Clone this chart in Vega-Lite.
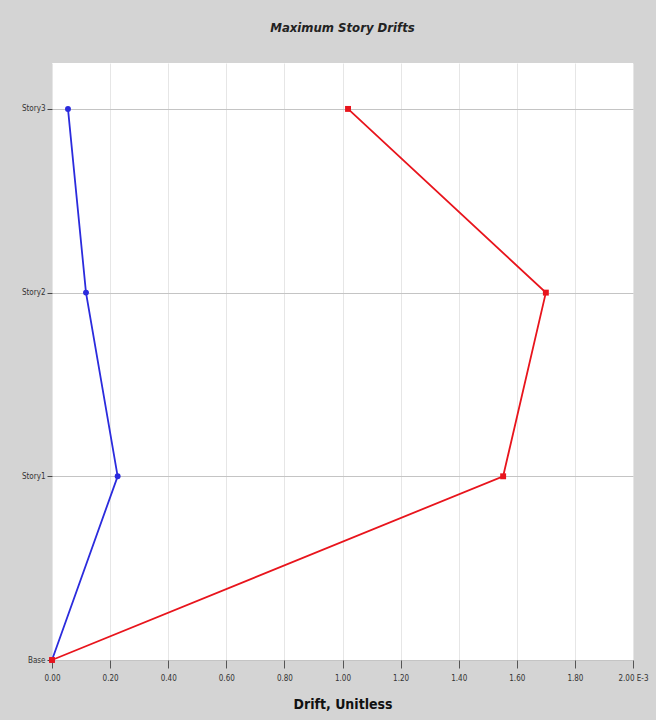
{
  "$schema": "https://vega.github.io/schema/vega-lite/v6.json",
  "width": 581,
  "height": 597,
  "autosize": {"type": "none"},
  "padding": {"left": 52, "top": 63, "right": 23, "bottom": 60},
  "background": "#d4d4d4",
  "view": {"fill": "white", "stroke": null},
  "title": {
    "text": "Maximum Story Drifts",
    "font": "'DejaVu Sans Condensed', 'Liberation Sans', sans-serif",
    "fontStyle": "italic",
    "fontWeight": "bold",
    "fontSize": 13,
    "color": "#222222",
    "offset": 28
  },
  "data": {
    "values": [
      {"series": "X", "level": 0, "drift": 0.0},
      {"series": "X", "level": 1, "drift": 0.226},
      {"series": "X", "level": 2, "drift": 0.117},
      {"series": "X", "level": 3, "drift": 0.055},
      {"series": "Y", "level": 0, "drift": 0.0},
      {"series": "Y", "level": 1, "drift": 1.553},
      {"series": "Y", "level": 2, "drift": 1.70},
      {"series": "Y", "level": 3, "drift": 1.019}
    ]
  },
  "encoding": {
    "x": {
      "field": "drift",
      "type": "quantitative",
      "scale": {"domain": [0, 2], "nice": false, "zero": false},
      "axis": {
        "values": [0, 0.2, 0.4, 0.6, 0.8, 1.0, 1.2, 1.4, 1.6, 1.8, 2.0],
        "labelExpr": "datum.value >= 2 ? '2.00 E-3' : format(datum.value, '.2f')",
        "title": "Drift, Unitless",
        "titleFont": "'DejaVu Sans Condensed', 'Liberation Sans', sans-serif",
        "titleFontSize": 14,
        "titleFontWeight": "bold",
        "titleColor": "#111111",
        "titlePadding": 15,
        "labelFont": "'DejaVu Sans Condensed', 'Liberation Sans', sans-serif",
        "labelFontSize": 8,
        "labelColor": "#333333",
        "labelPadding": 6,
        "labelOverlap": false,
        "labelFlush": false,
        "domain": false,
        "ticks": true,
        "tickColor": "#555555",
        "tickSize": 8,
        "grid": true,
        "gridColor": "#e6e6e6",
        "gridWidth": 1
      }
    },
    "y": {
      "field": "level",
      "type": "quantitative",
      "scale": {"domain": [0, 3.25], "nice": false, "zero": false},
      "axis": {
        "values": [0, 1, 2, 3],
        "labelExpr": "datum.value == 0 ? 'Base' : 'Story' + datum.value",
        "title": null,
        "labelFont": "'DejaVu Sans Condensed', 'Liberation Sans', sans-serif",
        "labelFontSize": 8,
        "labelColor": "#333333",
        "labelPadding": 2,
        "domain": false,
        "ticks": true,
        "tickColor": "#444444",
        "tickSize": 5,
        "grid": true,
        "gridColor": "#c4c4c4",
        "gridWidth": 1
      }
    },
    "color": {
      "field": "series",
      "type": "nominal",
      "scale": {"domain": ["X", "Y"], "range": ["#2b2bdd", "#e8141c"]},
      "legend": null
    },
    "order": {"field": "level", "type": "quantitative"}
  },
  "layer": [
    {
      "mark": {"type": "line", "strokeWidth": 1.8},
      "encoding": {
        "strokeWidth": {
          "field": "series",
          "type": "nominal",
          "scale": {"domain": ["X", "Y"], "range": [1.5, 2.2]},
          "legend": null
        }
      }
    },
    {
      "mark": {"type": "point", "filled": true, "opacity": 1},
      "encoding": {
        "shape": {
          "field": "series",
          "type": "nominal",
          "scale": {"domain": ["X", "Y"], "range": ["circle", "square"]},
          "legend": null
        },
        "size": {"value": 35}
      }
    }
  ]
}
